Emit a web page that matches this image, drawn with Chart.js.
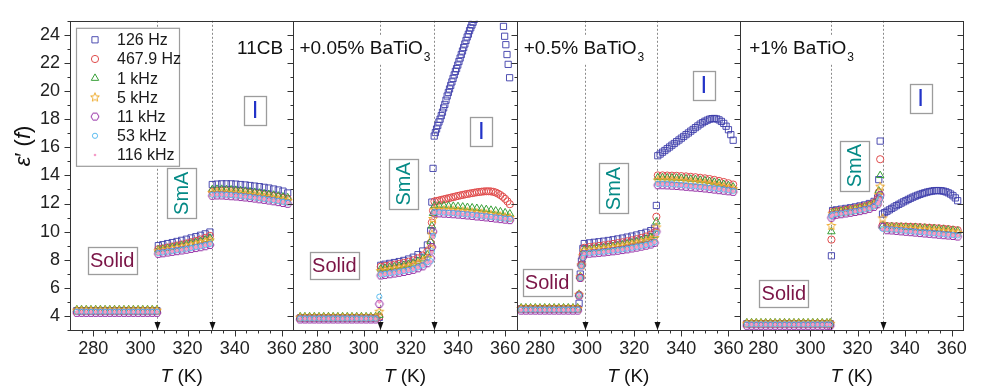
<!DOCTYPE html>
<html>
<head>
<meta charset="utf-8">
<script src="https://cdn.jsdelivr.net/npm/chart.js@4.4.0/dist/chart.umd.min.js"></script>
<style>
  html, body { margin: 0; padding: 0; background: #fff; }
</style>
</head>
<body>
<canvas id="chart" width="981" height="390"></canvas>
<script>
// ---- data ----
const xTicks = [280, 300, 320, 340, 360];
const yTicks = [4, 6, 8, 10, 12, 14, 16, 18, 20, 22, 24];
const freqLabels = ['126 Hz', '467.9 Hz', '1 kHz', '5 kHz', '11 kHz', '53 kHz', '116 kHz'];
const panelTitles = ['11CB', '+0.05% BaTiO', '+0.5% BaTiO', '+1% BaTiO'];
const panelSubs = ['', '3', '3', '3'];
const transitionT = [[307.2, 330.2], [306.9, 329.8], [299.1, 329.8], [308.9, 330.9]];

// panel 1: 11CB
const tP1 = [273,275,277,279,281,283,285,287,289,291,293,295,297,299,301,303,305,307,
  307.6,309.5,311.5,313.5,315.5,317.5,319.5,321.5,323.5,325.5,327.5,329.5,
  330.5,332.5,334.5,336.5,338.5,340.5,342.5,344.5,346.5,348.5,350.5,352.5,354.5,356.5,358.5,360.5,362.5];
const p1_126 = [4.38,4.38,4.38,4.38,4.38,4.38,4.38,4.38,4.38,4.38,4.38,4.38,4.38,4.38,4.38,4.38,4.38,4.38,
  9.0,9.07,9.15,9.22,9.3,9.38,9.46,9.55,9.64,9.74,9.84,9.97,
  13.35,13.38,13.4,13.4,13.4,13.38,13.35,13.32,13.28,13.24,13.2,13.15,13.1,13.03,12.96,12.88,12.75];
const p1_467 = [4.35,4.35,4.35,4.35,4.35,4.35,4.35,4.35,4.35,4.35,4.35,4.35,4.35,4.35,4.35,4.35,4.35,4.35,
  8.75,8.8,8.87,8.94,9.01,9.08,9.16,9.25,9.34,9.44,9.55,9.7,
  12.85,12.88,12.9,12.9,12.88,12.86,12.83,12.8,12.76,12.72,12.68,12.63,12.58,12.52,12.46,12.4,12.33];
const p1_1k = [4.45,4.45,4.45,4.45,4.45,4.45,4.45,4.45,4.45,4.45,4.45,4.45,4.45,4.45,4.45,4.45,4.45,4.45,
  8.7,8.75,8.81,8.87,8.93,9.0,9.07,9.15,9.23,9.32,9.42,9.55,
  13.0,13.02,13.02,13.0,12.98,12.95,12.92,12.88,12.84,12.8,12.75,12.7,12.65,12.6,12.54,12.48,12.42];
const p1_5k = [4.38,4.38,4.38,4.38,4.38,4.38,4.38,4.38,4.38,4.38,4.38,4.38,4.38,4.38,4.38,4.38,4.38,4.38,
  8.6,8.65,8.7,8.76,8.82,8.88,8.95,9.02,9.1,9.18,9.27,9.38,
  12.75,12.77,12.77,12.75,12.73,12.7,12.67,12.63,12.59,12.55,12.5,12.45,12.4,12.35,12.29,12.23,12.17];
const p1_11k = [4.22,4.22,4.22,4.22,4.22,4.22,4.22,4.22,4.22,4.22,4.22,4.22,4.22,4.22,4.22,4.22,4.22,4.22,
  8.42,8.46,8.51,8.56,8.61,8.66,8.71,8.77,8.83,8.89,8.96,9.05,
  12.55,12.57,12.57,12.55,12.52,12.5,12.46,12.43,12.39,12.35,12.3,12.26,12.21,12.16,12.1,12.04,11.98];
const p1_53k = [4.3,4.3,4.3,4.3,4.3,4.3,4.3,4.3,4.3,4.3,4.3,4.3,4.3,4.3,4.3,4.3,4.3,4.3,
  8.48,8.52,8.57,8.62,8.67,8.72,8.78,8.84,8.9,8.97,9.04,9.12,
  12.62,12.64,12.64,12.62,12.6,12.57,12.54,12.5,12.46,12.42,12.38,12.33,12.28,12.23,12.18,12.12,12.06];
const p1_116k = [4.28,4.28,4.28,4.28,4.28,4.28,4.28,4.28,4.28,4.28,4.28,4.28,4.28,4.28,4.28,4.28,4.28,4.28,
  8.46,8.5,8.55,8.6,8.65,8.7,8.76,8.82,8.88,8.95,9.02,9.1,
  12.6,12.62,12.62,12.6,12.58,12.55,12.52,12.48,12.44,12.4,12.36,12.31,12.26,12.21,12.16,12.1,12.04];

// dense isotropic temperature grids (used by the series that stand apart)
const tIso1K = [330,331,332,333,334,335,336,337,338,339,340,341,342,343,344,345,346,
  347,348,349,350,351,352,353,354,355,356,357,358,359,360,361,362];
const tP4IsoSq = [330.6,331.5,332.5,333.5,334.5,335.5,336.5,337.5,338.5,339.5,340.5,341.5,342.5,343.5,344.5,345.5,346.5,
  347.5,348.5,349.5,350.5,351.5,352.5,353.5,354.5,355.5,356.5,357.5,358.5,359.5,360.5,361.5,362.5];

// panel 2: +0.05% BaTiO3
const tP2 = [273,275,277,279,281,283,285,287,289,291,293,295,297,299,301,303,305,
  306.6,
  307.2,309,311,313,315,317,319,321,323,325,327,
  328.4,328.9,329.4,
  330,332,334,336,338,340,342,344,346,348,350,352,354,356,358,360,362];
const tP2sq = [273,275,277,279,281,283,285,287,289,291,293,295,297,299,301,303,305,
  306.6,
  307.2,309,311,313,315,317,319,321,323,325,327,
  328.4,328.9,329.4,
  329.9,330.4,330.9,331.4,331.9,332.4,332.9,333.4,333.9,334.4,334.9,335.4,335.9,336.4,336.9,337.4,337.9,
  338.4,338.9,339.4,339.9,340.4,340.9,341.4,341.9,342.4,342.9,343.4,343.9,344.4,344.9,345.4,345.9,346.4,346.9,
  358.8,359.3,359.8,360.3,360.8,361.3,361.9];
const tP2red = tP2.slice(0, 32).concat(tIso1K);
const p2_126 = [3.85,3.85,3.85,3.85,3.85,3.85,3.85,3.85,3.85,3.85,3.85,3.85,3.85,3.85,3.85,3.85,3.85,
  3.9,
  7.6,7.68,7.74,7.8,7.87,7.95,8.05,8.18,8.36,8.62,9.05,
  10.07,12.1,14.5,
  16.8,17.05,17.3,17.55,17.8,18.0,18.25,18.5,18.8,19.05,19.35,19.65,19.9,20.15,20.4,20.65,20.9,
  21.15,21.4,21.6,21.85,22.1,22.35,22.6,22.85,23.1,23.35,23.6,23.85,24.05,24.3,24.5,24.7,24.9,25.1,
  25.3,24.6,23.9,23.3,22.6,21.9,20.95];
const p2_467 = [3.88,3.88,3.88,3.88,3.88,3.88,3.88,3.88,3.88,3.88,3.88,3.88,3.88,3.88,3.88,3.88,3.88,
  3.95,
  7.5,7.55,7.6,7.65,7.71,7.78,7.86,7.96,8.1,8.3,8.6,
  9.2,10.65,11.5,
  12.15,12.18,12.22,12.26,12.3,12.34,12.38,12.42,12.46,12.5,12.54,12.58,12.61,12.65,12.68,12.71,12.74,
  12.77,12.8,12.82,12.84,12.86,12.87,12.87,12.86,12.83,12.78,12.7,12.6,12.48,12.33,12.15,11.95];
const p2_1k = [3.95,3.95,3.95,3.95,3.95,3.95,3.95,3.95,3.95,3.95,3.95,3.95,3.95,3.95,3.95,3.95,3.95,
  4.05,
  7.35,7.4,7.45,7.5,7.55,7.61,7.68,7.77,7.9,8.07,8.35,
  9.3,10.4,11.3,
  11.85,11.85,11.84,11.83,11.81,11.79,11.76,11.73,11.7,11.66,11.62,11.58,11.53,11.48,11.42,11.35,11.27];
const p2_5k = [3.88,3.88,3.88,3.88,3.88,3.88,3.88,3.88,3.88,3.88,3.88,3.88,3.88,3.88,3.88,3.88,3.88,
  4.3,
  7.2,7.25,7.3,7.35,7.4,7.46,7.53,7.61,7.73,7.88,8.12,
  8.8,9.8,10.9,
  11.55,11.55,11.54,11.52,11.5,11.47,11.44,11.41,11.37,11.33,11.29,11.25,11.2,11.15,11.1,11.04,10.98];
const p2_11k = [3.75,3.75,3.75,3.75,3.75,3.75,3.75,3.75,3.75,3.75,3.75,3.75,3.75,3.75,3.75,3.75,3.75,
  4.85,
  6.88,6.92,6.97,7.02,7.07,7.13,7.2,7.28,7.39,7.53,7.75,
  8.1,8.9,10.0,
  11.3,11.3,11.28,11.26,11.24,11.21,11.18,11.15,11.12,11.08,11.05,11.01,10.97,10.93,10.89,10.85,10.82];
const p2_53k = [3.82,3.82,3.82,3.82,3.82,3.82,3.82,3.82,3.82,3.82,3.82,3.82,3.82,3.82,3.82,3.82,3.82,
  5.37,
  6.95,6.99,7.04,7.09,7.14,7.2,7.27,7.35,7.46,7.6,7.82,
  7.9,8.6,9.7,
  11.38,11.38,11.36,11.34,11.32,11.29,11.26,11.23,11.2,11.16,11.13,11.09,11.05,11.01,10.97,10.93,10.9];
const p2_116k = [3.8,3.8,3.8,3.8,3.8,3.8,3.8,3.8,3.8,3.8,3.8,3.8,3.8,3.8,3.8,3.8,3.8,
  5.0,
  6.92,6.96,7.01,7.06,7.11,7.17,7.24,7.32,7.43,7.57,7.79,
  7.85,8.5,9.6,
  11.35,11.35,11.33,11.31,11.29,11.26,11.23,11.2,11.17,11.13,11.1,11.06,11.02,10.98,10.94,10.9,10.87];

// panel 3: +0.5% BaTiO3
const tP3 = [272,274,276,278,280,282,284,286,288,290,292,294,296,
  296.6,297.1,297.6,298.2,
  298.8,301,303,305,307,309,311,313,315,317,319,321,323,325,327,328.6,
  329.4,
  330,332,334,336,338,340,342,344,346,348,350,352,354,356,358,360,362];
const tP3sq = tP3.slice(0, 34).concat(tIso1K);
const p3_126 = [4.5,4.5,4.5,4.5,4.5,4.5,4.5,4.5,4.5,4.5,4.5,4.5,4.5,
  4.9,6.98,7.9,8.8,
  9.15,9.2,9.24,9.28,9.32,9.37,9.42,9.48,9.54,9.61,9.68,9.76,9.85,9.95,10.07,10.25,
  11.86,
  15.4,15.52,15.65,15.77,15.9,16.02,16.15,16.27,16.4,16.52,16.65,16.77,16.9,17.02,17.15,17.27,17.4,
  17.52,17.65,17.75,17.85,17.93,18.0,18.04,18.05,18.02,17.95,17.84,17.7,17.5,17.25,16.9,16.5];
const p3_467 = [4.52,4.52,4.52,4.52,4.52,4.52,4.52,4.52,4.52,4.52,4.52,4.52,4.52,
  5.5,6.75,7.66,8.4,
  8.85,8.9,8.94,8.98,9.02,9.07,9.12,9.18,9.24,9.31,9.38,9.46,9.55,9.65,9.78,9.95,
  11.06,
  14.0,14.0,13.99,13.98,13.97,13.95,13.93,13.9,13.87,13.83,13.79,13.74,13.68,13.61,13.53,13.44,13.35];
const p3_1k = [4.58,4.58,4.58,4.58,4.58,4.58,4.58,4.58,4.58,4.58,4.58,4.58,4.58,
  5.55,6.8,7.7,8.3,
  8.7,8.74,8.78,8.82,8.86,8.9,8.95,9.0,9.06,9.13,9.2,9.28,9.37,9.47,9.59,9.75,
  10.7,
  13.85,13.85,13.84,13.83,13.82,13.8,13.77,13.74,13.71,13.67,13.63,13.58,13.52,13.45,13.37,13.28,13.18];
const p3_5k = [4.5,4.5,4.5,4.5,4.5,4.5,4.5,4.5,4.5,4.5,4.5,4.5,4.5,
  5.5,6.75,7.6,8.25,
  8.6,8.64,8.68,8.72,8.76,8.8,8.85,8.9,8.95,9.01,9.08,9.15,9.23,9.32,9.42,9.55,
  10.3,
  13.65,13.65,13.64,13.63,13.61,13.59,13.56,13.53,13.5,13.46,13.42,13.37,13.31,13.25,13.18,13.1,13.02];
const p3_11k = [4.38,4.38,4.38,4.38,4.38,4.38,4.38,4.38,4.38,4.38,4.38,4.38,4.38,
  5.45,6.7,7.6,8.2,
  8.4,8.43,8.46,8.49,8.52,8.56,8.6,8.64,8.69,8.74,8.8,8.86,8.93,9.0,9.08,9.2,
  10.0,
  13.3,13.3,13.29,13.27,13.25,13.22,13.19,13.16,13.13,13.1,13.07,13.03,12.99,12.95,12.91,12.87,12.83];
const p3_53k = [4.45,4.45,4.45,4.45,4.45,4.45,4.45,4.45,4.45,4.45,4.45,4.45,4.45,
  5.45,6.7,7.55,8.15,
  8.45,8.48,8.51,8.54,8.57,8.61,8.65,8.69,8.74,8.79,8.85,8.91,8.98,9.05,9.13,9.25,
  9.9,
  13.4,13.4,13.39,13.37,13.35,13.32,13.29,13.26,13.23,13.2,13.16,13.12,13.08,13.04,13.0,12.95,12.9];
const p3_116k = [4.42,4.42,4.42,4.42,4.42,4.42,4.42,4.42,4.42,4.42,4.42,4.42,4.42,
  5.45,6.7,7.55,8.15,
  8.43,8.46,8.49,8.52,8.55,8.59,8.63,8.67,8.72,8.77,8.83,8.89,8.96,9.03,9.11,9.23,
  9.8,
  13.37,13.37,13.36,13.34,13.32,13.29,13.26,13.23,13.2,13.17,13.13,13.09,13.05,13.01,12.97,12.92,12.87];

// panel 4: +1% BaTiO3
const tP4 = [273,275,277,279,281,283,285,287,289,291,293,295,297,299,301,303,305,307,308.4,
  308.9,
  309.4,311,313,315,317,319,321,323,325,327,328.5,
  329.0,329.6,
  330.6,332.5,334.5,336.5,338.5,340.5,342.5,344.5,346.5,348.5,350.5,352.5,354.5,356.5,358.5,360.5,362.5];
const tP4sq = tP4.slice(0, 33).concat(tP4IsoSq);
const p4_126 = [3.45,3.45,3.45,3.45,3.45,3.45,3.45,3.45,3.45,3.45,3.45,3.45,3.45,3.45,3.45,3.45,3.45,3.45,3.45,
  8.28,
  11.5,11.55,11.6,11.65,11.7,11.76,11.83,11.9,12.0,12.15,12.4,
  13.7,16.44,
  11.25,11.35,11.45,11.55,11.65,11.75,11.85,11.94,12.03,12.12,12.2,12.29,12.37,12.45,12.52,12.59,12.65,
  12.71,12.76,12.81,12.85,12.88,12.91,12.92,12.92,12.91,12.88,12.83,12.76,12.67,12.55,12.4,12.2];
const p4_467 = [3.45,3.45,3.45,3.45,3.45,3.45,3.45,3.45,3.45,3.45,3.45,3.45,3.45,3.45,3.45,3.45,3.45,3.45,3.45,
  9.43,
  11.4,11.45,11.5,11.55,11.6,11.66,11.73,11.8,11.9,12.05,12.3,
  12.8,15.15,
  10.45,10.4,10.39,10.38,10.37,10.36,10.35,10.34,10.32,10.3,10.28,10.26,10.24,10.21,10.18,10.14,10.1];
const p4_1k = [3.52,3.52,3.52,3.52,3.52,3.52,3.52,3.52,3.52,3.52,3.52,3.52,3.52,3.52,3.52,3.52,3.52,3.52,3.52,
  10.0,
  11.35,11.4,11.45,11.5,11.55,11.61,11.68,11.75,11.85,12.0,12.25,
  12.9,14.0,
  10.4,10.35,10.34,10.33,10.32,10.31,10.3,10.29,10.27,10.25,10.23,10.21,10.18,10.15,10.12,10.08,10.04];
const p4_5k = [3.45,3.45,3.45,3.45,3.45,3.45,3.45,3.45,3.45,3.45,3.45,3.45,3.45,3.45,3.45,3.45,3.45,3.45,3.45,
  10.4,
  11.25,11.3,11.35,11.4,11.45,11.51,11.58,11.65,11.75,11.9,12.1,
  12.6,13.2,
  10.94,10.25,10.24,10.23,10.22,10.21,10.19,10.17,10.15,10.13,10.11,10.08,10.05,10.02,9.99,9.95,9.91];
const p4_11k = [3.3,3.3,3.3,3.3,3.3,3.3,3.3,3.3,3.3,3.3,3.3,3.3,3.3,3.3,3.3,3.3,3.3,3.3,3.3,
  10.99,
  11.15,11.2,11.24,11.29,11.34,11.4,11.46,11.53,11.62,11.76,11.95,
  12.3,12.6,
  10.34,10.1,10.08,10.05,10.02,9.99,9.96,9.93,9.9,9.87,9.84,9.81,9.78,9.75,9.72,9.69,9.65];
const p4_53k = [3.4,3.4,3.4,3.4,3.4,3.4,3.4,3.4,3.4,3.4,3.4,3.4,3.4,3.4,3.4,3.4,3.4,3.4,3.4,
  11.1,
  11.2,11.25,11.29,11.34,11.39,11.45,11.51,11.58,11.67,11.8,12.0,
  12.2,12.4,
  10.2,10.17,10.15,10.12,10.09,10.06,10.03,10.0,9.97,9.94,9.91,9.88,9.85,9.82,9.79,9.76,9.73];
const p4_116k = [3.38,3.38,3.38,3.38,3.38,3.38,3.38,3.38,3.38,3.38,3.38,3.38,3.38,3.38,3.38,3.38,3.38,3.38,3.38,
  11.1,
  11.18,11.23,11.27,11.32,11.37,11.43,11.49,11.56,11.65,11.78,11.98,
  12.1,12.3,
  10.17,10.14,10.12,10.09,10.06,10.03,10.0,9.97,9.94,9.91,9.88,9.85,9.82,9.79,9.76,9.73,9.7];

const panelT = [tP1, tP2, tP3, tP4];
const ownT = {'1-0': tP2sq, '1-1': tP2red, '2-0': tP3sq, '3-0': tP4sq};
const panelSeries = [
  [p1_126, p1_467, p1_1k, p1_5k, p1_11k, p1_53k, p1_116k],
  [p2_126, p2_467, p2_1k, p2_5k, p2_11k, p2_53k, p2_116k],
  [p3_126, p3_467, p3_1k, p3_5k, p3_11k, p3_53k, p3_116k],
  [p4_126, p4_467, p4_1k, p4_5k, p4_11k, p4_53k, p4_116k]
];

// ---- styling ----
const FONT = '"Liberation Sans", Arial, Helvetica, sans-serif';
Chart.defaults.font.family = FONT;

function shapeCanvas(kind, r, color) {
  const s = Math.ceil(2 * r + 4);
  const c = document.createElement('canvas');
  c.width = s; c.height = s;
  const g = c.getContext('2d');
  g.strokeStyle = color;
  g.lineWidth = 1;
  g.beginPath();
  const n = kind === 'star' ? 10 : 6;
  for (let i = 0; i < n; i++) {
    const a = (kind === 'star' ? -Math.PI / 2 : 0) + i * 2 * Math.PI / n;
    const rr = kind === 'star' && i % 2 ? r * 0.45 : r;
    const px = s / 2 + rr * Math.cos(a), py = s / 2 + rr * Math.sin(a);
    if (i) g.lineTo(px, py); else g.moveTo(px, py);
  }
  g.closePath();
  g.stroke();
  return c;
}

const seriesStyle = [
  {style: 'rect', r: 4.4, color: 'rgba(60,60,170,0.9)'},
  {style: 'circle', r: 3.6, color: '#e04c4c'},
  {style: 'triangle', r: 4.3, color: '#38a038'},
  {style: shapeCanvas('star', 4.6, '#eeab2e'), r: 4.6, color: '#eeab2e'},
  {style: shapeCanvas('hex', 4.0, '#952fa6'), r: 4.0, color: '#952fa6'},
  {style: 'circle', r: 2.6, color: '#5dbdf0'},
  {style: 'circle', r: 1.3, color: '#f59cc8', fill: true}
];

const labelSpots = [
  {titleT: 360.6, align: 'right', solid: [288, 7.95], smA: [317.5, 12.73], iso: [348.7, 18.6]},
  {titleT: 272.7, align: 'left', solid: [287.5, 7.57], smA: [317, 13.4], iso: [349.9, 17.1]},
  {titleT: 273.1, align: 'left', solid: [283, 6.4], smA: [311.1, 13.07], iso: [349.5, 20.4]},
  {titleT: 274, align: 'left', solid: [288.7, 5.6], smA: [318.7, 14.7], iso: [346.8, 19.46]}
];
const titleV = 23.0;

// ---- datasets ----
const datasets = [];
panelSeries.forEach((list, p) => {
  list.forEach((vals, s) => {
    const ts = ownT[p + '-' + s] || panelT[p];
    if (ts.length !== vals.length) throw new Error('length mismatch panel ' + (p + 1) + ' series ' + s + ': ' + ts.length + ' vs ' + vals.length);
    const st = seriesStyle[s];
    datasets.push({
      label: freqLabels[s],
      xAxisID: 'x' + p,
      yAxisID: 'y',
      data: ts.map((t, i) => ({x: t, y: vals[i]})),
      showLine: false,
      pointStyle: st.style,
      pointRadius: st.r,
      pointBorderWidth: 1,
      pointBorderColor: st.color,
      pointBackgroundColor: st.fill ? st.color : 'rgba(0,0,0,0)',
      order: 7 - s,
      clip: {left: false, right: false, top: 0, bottom: false}
    });
  });
});

// ---- scales ----
const scales = {
  y: {
    type: 'linear', position: 'left', min: 3, max: 25,
    grid: {display: false, drawTicks: false},
    border: {display: false},
    ticks: {font: {size: 18}, color: '#222', padding: 10},
    afterBuildTicks: sc => { sc.ticks = yTicks.map(v => ({value: v})); },
    afterFit: sc => { sc.width = 70; }
  }
};
for (let p = 0; p < 4; p++) {
  scales['x' + p] = {
    type: 'linear', position: 'bottom', stack: 'panels', stackWeight: 1,
    min: 270.1, max: 364.9,
    grid: {display: false, drawTicks: false},
    border: {display: false},
    ticks: {font: {size: 18}, color: '#222', padding: 8, maxRotation: 0, autoSkip: false},
    afterBuildTicks: sc => { sc.ticks = xTicks.map(v => ({value: v})); },
    afterFit: sc => { sc.height = 60; }
  };
}

function px(chart, p, t) { return chart.scales['x' + p].getPixelForValue(t); }
function py(chart, v) { return chart.scales.y.getPixelForValue(v); }

function drawBox(ctx, text, cx, cy, w, h, color, size, vertical) {
  ctx.save();
  const x0 = Math.round(cx - w / 2) + 0.5, y0 = Math.round(cy - h / 2) + 0.5;
  ctx.fillStyle = '#fff';
  ctx.fillRect(x0, y0, w, h);
  ctx.strokeStyle = '#9c9c9c';
  ctx.lineWidth = 1.3;
  ctx.strokeRect(x0, y0, w, h);
  ctx.fillStyle = color;
  ctx.font = size + 'px ' + FONT;
  ctx.textAlign = 'center';
  ctx.textBaseline = 'middle';
  ctx.translate(cx, cy);
  if (vertical) ctx.rotate(-Math.PI / 2);
  ctx.fillText(text, 0, 1);
  ctx.restore();
}

function drawMarker(ctx, s, x, y) {
  const st = seriesStyle[s];
  ctx.save();
  ctx.strokeStyle = st.color;
  ctx.fillStyle = st.color;
  ctx.lineWidth = 1;
  if (typeof st.style !== 'string') {
    ctx.drawImage(st.style, x - st.style.width / 2, y - st.style.height / 2);
  } else {
    ctx.beginPath();
    if (st.style === 'rect') {
      const h = st.r * Math.SQRT1_2;
      ctx.rect(x - h, y - h, 2 * h, 2 * h);
    } else if (st.style === 'triangle') {
      let a = 0;
      for (let i = 0; i < 3; i++) {
        const qx = x + Math.sin(a) * st.r, qy = y - Math.cos(a) * st.r;
        if (i) ctx.lineTo(qx, qy); else ctx.moveTo(qx, qy);
        a += 2 * Math.PI / 3;
      }
      ctx.closePath();
    } else {
      ctx.arc(x, y, st.r, 0, 2 * Math.PI);
    }
    if (st.fill) ctx.fill(); else ctx.stroke();
  }
  ctx.restore();
}

const decor = {
  id: 'decor',
  beforeDatasetsDraw(chart) {
    const ctx = chart.ctx, a = chart.chartArea;
    ctx.save();
    // dotted transition lines with arrow heads
    transitionT.forEach((list, p) => {
      list.forEach(t => {
        const x = Math.round(px(chart, p, t)) + 0.5;
        ctx.strokeStyle = '#8a8a8a';
        ctx.lineWidth = 1;
        ctx.setLineDash([2, 2]);
        ctx.beginPath();
        ctx.moveTo(x, a.top);
        ctx.lineTo(x, a.bottom);
        ctx.stroke();
        ctx.setLineDash([]);
        ctx.fillStyle = '#111';
        ctx.beginPath();
        ctx.moveTo(x, a.bottom);
        ctx.lineTo(x - 3, a.bottom - 8);
        ctx.lineTo(x + 3, a.bottom - 8);
        ctx.closePath();
        ctx.fill();
      });
    });
    ctx.restore();
  },
  afterDatasetsDraw(chart) {
    const ctx = chart.ctx, a = chart.chartArea, ys = chart.scales.y;
    ctx.save();
    // phase boxes
    labelSpots.forEach((L, p) => {
      drawBox(ctx, 'Solid', px(chart, p, L.solid[0]), py(chart, L.solid[1]), 49, 27, '#7a1446', 20, false);
      drawBox(ctx, 'SmA', px(chart, p, L.smA[0]), py(chart, L.smA[1]), 29, 50, '#058a86', 20, true);
      drawBox(ctx, 'I', px(chart, p, L.iso[0]), py(chart, L.iso[1]), 22, 29, '#2233c8', 24, false);
    });
    // panel titles
    labelSpots.forEach((L, p) => {
      const x = px(chart, p, L.titleT), y = py(chart, titleV);
      ctx.font = '19px ' + FONT;
      const w = ctx.measureText(panelTitles[p]).width;
      ctx.font = '12px ' + FONT;
      const ws = panelSubs[p] ? ctx.measureText(panelSubs[p]).width + 1 : 0;
      const x0 = L.align === 'right' ? x - w - ws : x;
      ctx.fillStyle = '#fff';
      ctx.fillRect(x0 - 2, y - 13, w + ws + 4, 28);
      ctx.fillStyle = '#111';
      ctx.textAlign = 'left';
      ctx.textBaseline = 'middle';
      ctx.font = '19px ' + FONT;
      ctx.fillText(panelTitles[p], x0, y);
      if (panelSubs[p]) {
        ctx.font = '12px ' + FONT;
        ctx.fillText(panelSubs[p], x0 + w + 1, y + 9);
      }
    });
    // legend
    const lx = a.left + 6, ly = a.top + 7;
    ctx.fillStyle = '#fff';
    ctx.fillRect(lx + 0.5, ly + 0.5, 103, 138);
    ctx.strokeStyle = '#9c9c9c';
    ctx.lineWidth = 1.2;
    ctx.strokeRect(lx + 0.5, ly + 0.5, 103, 138);
    ctx.font = '16px ' + FONT;
    ctx.textAlign = 'left';
    ctx.textBaseline = 'middle';
    freqLabels.forEach((lab, s) => {
      const yy = ly + 12 + s * 19.2;
      drawMarker(ctx, s, lx + 19, yy);
      ctx.fillStyle = '#1a1a1a';
      ctx.fillText(lab, lx + 41, yy + 1);
    });
    // frames and ticks
    ctx.strokeStyle = '#333';
    ctx.lineWidth = 1;
    const top = Math.round(a.top) + 0.5, bot = Math.round(a.bottom) + 0.5;
    for (let p = 0; p < 4; p++) {
      const xs = chart.scales['x' + p];
      const L = Math.round(xs.left) + 0.5, R = Math.round(xs.right) + 0.5;
      ctx.strokeRect(L, top, R - L, bot - top);
      ctx.beginPath();
      for (let t = 270; t <= 365; t += 5) {
        if (t < xs.min || t > xs.max) continue;
        const x = Math.round(xs.getPixelForValue(t)) + 0.5;
        const len = t % 20 === 0 ? 6 : 3;
        ctx.moveTo(x, bot);
        ctx.lineTo(x, bot + len);
      }
      for (let v = 3; v <= 25; v += 1) {
        const y = Math.round(ys.getPixelForValue(v)) + 0.5;
        const len = v % 2 === 0 ? 6 : 3;
        ctx.moveTo(R, y);
        ctx.lineTo(R - len, y);
        if (p === 0) {
          ctx.moveTo(L, y);
          ctx.lineTo(L - len, y);
        }
      }
      ctx.stroke();
      // x axis title
      const cx = (xs.left + xs.right) / 2;
      ctx.fillStyle = '#111';
      ctx.textBaseline = 'middle';
      ctx.font = 'italic 19px ' + FONT;
      const wT = ctx.measureText('T').width;
      ctx.font = '19px ' + FONT;
      const wK = ctx.measureText(' (K)').width;
      const sx = cx - (wT + wK) / 2;
      ctx.textAlign = 'left';
      ctx.font = 'italic 19px ' + FONT;
      ctx.fillText('T', sx, 377);
      ctx.font = '19px ' + FONT;
      ctx.fillText(' (K)', sx + wT, 377);
    }
    // y axis title: ε′ (f)
    ctx.save();
    ctx.translate(24, 146);
    ctx.rotate(-Math.PI / 2);
    const parts = [['ε', 'italic '], ['′ (', ''], ['f', 'italic '], [')', '']];
    let total = 0;
    parts.forEach(q => { ctx.font = q[1] + '22px ' + FONT; total += ctx.measureText(q[0]).width; });
    let cx = -total / 2;
    ctx.fillStyle = '#111';
    ctx.textAlign = 'left';
    ctx.textBaseline = 'middle';
    parts.forEach(q => {
      ctx.font = q[1] + '22px ' + FONT;
      ctx.fillText(q[0], cx, 0);
      cx += ctx.measureText(q[0]).width;
    });
    ctx.restore();
    ctx.restore();
  }
};

new Chart(document.getElementById('chart'), {
  type: 'scatter',
  data: {datasets},
  options: {
    responsive: false,
    animation: false,
    devicePixelRatio: 1,
    events: [],
    layout: {padding: {top: 8, right: 11, left: 0, bottom: 0}},
    plugins: {legend: {display: false}, tooltip: {enabled: false}},
    scales
  },
  plugins: [decor]
});
</script>
</body>
</html>
